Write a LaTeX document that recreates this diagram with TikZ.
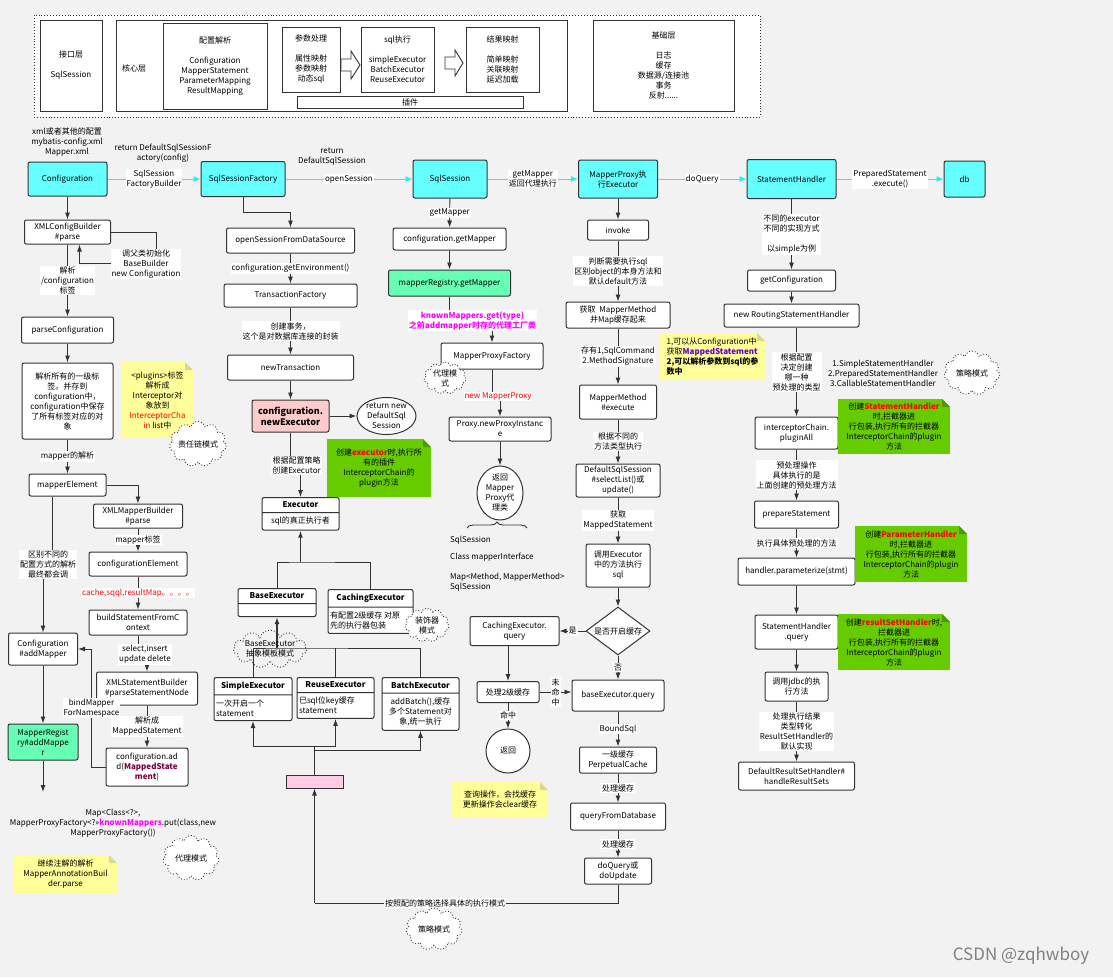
\documentclass[tikz,border=0pt]{standalone}
\usepackage{fontspec}
\setmainfont{Noto Sans CJK SC}
\usetikzlibrary{arrows.meta, shapes.geometric, shapes.symbols, shapes.multipart, decorations.pathreplacing}

\definecolor{bgc}{HTML}{F2F2F2}
\definecolor{linec}{HTML}{333333}
\definecolor{cyanbox}{HTML}{66FFFF}
\definecolor{cyanline}{HTML}{22F0F0}
\definecolor{greenbox}{HTML}{66FFB3}
\definecolor{pinkbox}{HTML}{FFCCCC}
\definecolor{pinkbar}{HTML}{FFCCE6}
\definecolor{notey}{HTML}{FFFF99}
\definecolor{noteyfold}{HTML}{D9D98C}
\definecolor{noteg}{HTML}{66CC00}
\definecolor{notegfold}{HTML}{4D9900}
\definecolor{magentat}{HTML}{FF00FF}
\definecolor{redt}{HTML}{FF0000}
\definecolor{wine}{HTML}{7F0040}
\definecolor{purplet}{HTML}{6600CC}

\tikzset{
    sz/.style 2 args = {minimum width = #1pt, minimum height = #2pt},
    flat/.style = {draw = linec, line width = 0.9pt, fill = white, align = center, inner sep = 1pt},
    box/.style = {flat, line width = 1pt, rounded corners = 2pt},
    mainbox/.style = {box, fill = cyanbox},
    uml/.style = {rectangle split, rectangle split parts = 2, draw = linec, line width = 1pt,
        rounded corners = 2pt, fill = white, align = center, inner xsep = 2pt, inner ysep = 4pt},
    lbl/.style = {fill = white, inner sep = 1pt, align = center},
    txt/.style = {align = center, inner sep = 0pt},
    note/.style 2 args = {fill = #1, align = center, inner sep = 2pt,
        path picture = {
            \fill[bgc] ([xshift = -8pt]path picture bounding box.north east) -- (path picture bounding box.north east)
                -- ([yshift = -8pt]path picture bounding box.north east) -- cycle;
            \fill[#2] ([xshift = -8pt]path picture bounding box.north east) -- ([xshift = -8pt, yshift = -8pt]path picture bounding box.north east)
                -- ([yshift = -8pt]path picture bounding box.north east) -- cycle;
        }},
    cloudn/.style = {cloud, cloud puffs = 11, cloud ignores aspect, draw = linec, dotted, line width = 0.9pt,
        fill = white, align = center, inner sep = 0pt},
    ln/.style = {draw = linec, line width = 0.9pt},
    arr/.style = {ln, -{Latex[length = 7pt, width = 5pt]}},
    carr/.style = {draw = cyanline, line width = 1pt, -{Latex[length = 7pt, width = 6pt]}},
    blockarr/.style = {draw = linec, line width = 0.9pt, fill = white, line join = miter}
}

\begin{document}
\begin{tikzpicture}[x = 1pt, y = -1pt, font = \fontsize{8}{10}\selectfont]
    \useasboundingbox (0, 0) rectangle (1113, 977);
    \fill[bgc] (0, 0) rectangle (1113, 977);

    % layers
    \node[flat, dotted, sz = {726}{102}] (arch) at (397, 66) {};
    \node[flat, sz = {62}{91}] (ifl) at (71, 65.5) {接口层\\[10pt]SqlSession};
    \node[flat, sz = {451}{91}] (core) at (341.5, 65.5) {};
    \node[txt] (corelbl) at (134, 68) {核心层};
    \node[flat, sz = {104}{86}] (cfgp) at (215, 66) {配置解析\\[10pt]Configuration\\MapperStatement\\ParameterMapping\\ResultMapping};
    \node[flat, sz = {58}{65}] (parp) at (311, 59.5) {参数处理\\[10pt]属性映射\\参数映射\\动态sql};
    \draw[blockarr] (341, 59) -- (351, 59) -- (351, 51) -- (360, 65) -- (351, 79) -- (351, 71) -- (341, 71) -- cycle;
    \node[flat, sz = {73}{65}] (sqlx) at (397.5, 59.5) {sql执行\\[10pt]simpleExecutor\\BatchExecutor\\ReuseExecutor};
    \draw[blockarr] (445, 57) -- (455, 57) -- (455, 50) -- (463, 63) -- (455, 76) -- (455, 69) -- (445, 69) -- cycle;
    \node[flat, sz = {73}{65}] (resm) at (502.5, 59.5) {结果映射\\[10pt]简单映射\\关联映射\\延迟加载};
    \node[flat, sz = {226}{12}, inner sep = 0pt] (plug) at (410, 102) {插件};
    \node[flat, sz = {141}{91}] (basel) at (663.5, 65.5) {基础层\\[10pt]日志\\缓存\\数据源/连接池\\事务\\反射......};

    % main row
    \node[mainbox, sz = {79}{34}] (cfg) at (67.5, 179) {Configuration};
    \node[mainbox, sz = {84}{35}] (ssf) at (243, 179) {SqlSessionFactory};
    \node[mainbox, sz = {74}{38}] (ss) at (450, 179) {SqlSession};
    \node[mainbox, sz = {79}{38}] (mp) at (618, 179) {MapperProxy执\\行Executor};
    \node[mainbox, sz = {89}{39}] (sh) at (791.5, 179) {StatementHandler};
    \node[mainbox, sz = {41}{36}] (db) at (964.5, 179) {db};
    \draw[carr] (cfg) -- node[lbl] {SqlSession\\FactoryBuilder} (ssf);
    \draw[carr] (ssf) -- node[lbl] {openSession} (ss);
    \draw[carr] (ss) -- node[lbl] {getMapper\\返回代理执行} (mp);
    \draw[carr] (mp) -- node[lbl] {doQuery} (sh);
    \draw[carr] (sh) -- node[lbl] {PreparedStatement\\.execute()} (db);
    \node[txt] (cfgsrc) at (67, 142) {xml或者其他的配置\\mybatis-config.xml\\Mapper.xml};
    \node[txt] (retssf) at (163, 153) {return DefaultSqlSessionF\\actory(config)};
    \node[txt] (retss) at (332, 157) {return\\DefaultSqlSession};

    % configuration parsing
    \node[box, sz = {86}{24}] (xcb) at (67.5, 232) {XMLConfigBuilder\\\#parse};
    \node[box, sz = {92}{26}] (pc1) at (67.5, 330) {parseConfiguration};
    \node[box, sz = {91}{76}] (all1) at (67.5, 401) {解析所有的一级标\\签。并存到\\configuration中，\\configuration中保存\\了所有标签对应的对\\象};
    \node[box, sz = {77}{22}] (me) at (67.5, 485) {mapperElement};
    \node[box, sz = {89}{24}] (xmb) at (138, 516) {XMLMapperBuilder\\\#parse};
    \node[box, sz = {98}{24}] (ce) at (138, 564) {configurationElement};
    \node[box, sz = {98}{25}] (bsc) at (138, 622.5) {buildStatementFromC\\ontext};
    \node[box, sz = {101}{33}] (xsb) at (147, 688.5) {XMLStatementBuilder\\\#parseStatementNode};
    \node[box, sz = {82}{38}] (cadd) at (147, 767) {configuration.ad\\d(\textbf{\color{wine}MappedState}\\\textbf{\color{wine}ment})};
    \node[box, sz = {69}{32}] (cam) at (43, 649) {Configuration\\\#addMapper};
    \node[box, fill = greenbox, sz = {70}{36}] (mra) at (43, 742) {MapperRegist\\ry\#addMappe\\r};
    \coordinate (xcbloop) at (156, 263);
    \coordinate (mraend) at (43, 792);
    \draw[arr] (cfg) -- (xcb);
    \draw[arr] (xcb.east) -| (xcbloop) -| ([xshift = 12pt]xcb.south);
    \node[lbl] (xcblbl) at (146, 264) {调父类初始化\\BaseBuilder\\new Configuration};
    \draw[arr] (xcb) -- node[lbl] {解析\\/configuration\\标签} (pc1);
    \draw[arr] (pc1) -- (all1);
    \draw[arr] (all1) -- node[lbl] {mapper的解析} (me);
    \draw[arr] (me.east) -| (xmb.north);
    \draw[arr] (xmb) -- node[lbl] {mapper标签} (ce);
    \draw[arr] (ce) -- node[lbl, text = redt] {cache,sqql,resultMap。。。。} (bsc);
    \draw[arr] (bsc.south) -- ++(0, 19) node[lbl, xshift = 7pt] {select,insert\\update delete} -| (xsb.north);
    \draw[arr] (xsb) -- node[lbl] {解析成\\MappedStatement} (cadd);
    \draw[arr] (cadd.west) -- ++(-14, 0) |- node[lbl, pos = 0.25] {bindMapper\\ForNamespace} (cam.east);
    \draw[arr] ([xshift = -15.5pt]me.south) |- ([yshift = 68pt]cam.north) node[lbl, xshift = 5pt] {区别不同的\\配置方式的解析\\最终都会调} -- (cam.north);
    \draw[arr] (cam) -- (mra);
    \draw[arr] (mra) -- (mraend);
    \node[txt] (kmput) at (113, 823) {Map<Class<?>,\\MapperProxyFactory<?>>\textbf{\color{magentat}knownMappers}.put(class,new\\MapperProxyFactory())};
    \node[cloudn, sz = {56}{45}] (proxy2) at (191, 858) {代理模式};
    \node[note = {notey}{noteyfold}, sz = {103}{38}] (annot) at (65.5, 874) {继续注解的解析\\MapperAnnotationBuil\\der.parse};
    \node[note = {notey}{noteyfold}, sz = {71}{76}] (plugnote) at (157.5, 400) {<plugins>标签\\解析成\\Interceptor对\\象放到\\{\color{redt}InterceptorCha}\\{\color{redt}in} list中};
    \node[cloudn, sz = {57}{45}] (chain) at (198, 444) {责任链模式};

    % session factory
    \node[box, sz = {128}{25}] (osf) at (290.5, 240.5) {openSessionFromDataSource};
    \node[box, sz = {133}{23}] (tf) at (290.5, 295.5) {TransactionFactory};
    \node[box, sz = {126}{25}] (nt) at (290.5, 367.5) {newTransaction};
    \node[box, fill = pinkbox, sz = {77}{32}, font = \fontsize{9}{11}\selectfont\bfseries] (nex) at (290.5, 416) {configuration.\\newExecutor};
    \node[ellipse, draw = linec, line width = 1pt, fill = white, align = center, inner sep = 0pt, sz = {59}{37}] (rds) at (386.5, 416) {return new\\DefaultSql\\Session};
    \draw[arr] (ssf.south) -- ++(0, 15) -| (osf.north);
    \draw[arr] (osf) -- node[lbl] {configuration.getEnvironment()} (tf);
    \draw[arr] (tf) -- node[lbl] {创建事务，\\这个是对数据库连接的封装} (nt);
    \draw[arr] (nt) -- (nex);
    \draw[arr] (nex) -- (rds);
    \node[note = {noteg}{notegfold}, sz = {104}{58}] (exnote) at (379, 468) {创建\textbf{\color{redt}executor}时,执行所\\有的插件\\InterceptorChain的\\plugin方法};

    % executors
    \node[uml, minimum width = 77pt, anchor = north] (exe) at (300.5, 497) {\textbf{Executor}\nodepart{second}sql的真正执行者};
    \node[uml, minimum width = 78pt, anchor = north] (base) at (277, 588) {\textbf{BaseExecutor}\nodepart{second}\rule{0pt}{4pt}};
    \node[uml, minimum width = 85pt, anchor = north, rectangle split part align = {center, left}] (cach) at (370.5, 589) {\textbf{CachingExecutor}\nodepart[align = left]{second}有配置2级缓存 对原\\先的执行器包装};
    \node[uml, minimum width = 78pt, anchor = north, rectangle split part align = {center, left}] (simp) at (253, 677) {\textbf{SimpleExecutor}\nodepart[align = left]{second}一次开启一个\\statement};
    \node[uml, minimum width = 77pt, anchor = north, rectangle split part align = {center, left}] (reuse) at (335.5, 677) {\textbf{ReuseExecutor}\nodepart[align = left]{second}已sql位key缓存\\statement};
    \node[uml, minimum width = 77pt, anchor = north] (batch) at (420.5, 677) {\textbf{BatchExecutor}\nodepart{second}addBatch(),缓存\\多个Statement对\\象,统一执行};
    \node[draw = linec, line width = 1pt, fill = pinkbar, sz = {57}{13}, inner sep = 0pt] (pinkb) at (314.5, 781.5) {};
    \coordinate (exjoin) at (300.5, 562);
    \coordinate (subjoin) at (277, 648);
    \coordinate (pjoin) at (314.5, 746);
    \coordinate (lowc) at (314.5, 903);
    \draw[arr] (nex.south) -- ++(0, 33) node[lbl, xshift = 6pt] {根据配置策略\\创建Executor} -| (exe.north);
    \draw[ln] (base.north) |- (exjoin) -| (cach.north);
    \draw[arr, line width = 1.4pt] (exjoin) -- (exe.south);
    \draw[ln] (simp.north) |- (subjoin) -| (batch.north);
    \draw[ln] (reuse.north) -- (reuse.north |- subjoin);
    \draw[arr, line width = 1.4pt] (subjoin) -- (base.south);
    \draw[ln] (pinkb.north) -- (pjoin);
    \draw[arr] (pjoin) -| (simp.south);
    \draw[arr] (pjoin) -| (reuse.south);
    \draw[arr] (pjoin) -- ++(0, 4) -| (batch.south);
    \node[cloudn, fill = none, sz = {64}{36}] (tmpl) at (270, 649) {BaseExecutor\\抽象模板模式};
    \node[cloudn, sz = {44}{34}] (deco) at (427, 625) {装饰器\\模式};

    % mapper proxy
    \node[box, sz = {113}{22}] (cgm) at (449.5, 239) {configuration.getMapper};
    \node[box, fill = greenbox, sz = {122}{26}] (mrg) at (449.5, 283) {mapperRegistry.getMapper};
    \node[box, sz = {102}{26}] (mpf) at (492, 356) {MapperProxyFactory};
    \node[box, sz = {102}{24}] (pni) at (500, 429) {Proxy.newProxyInstanc\\e};
    \node[ellipse, draw = linec, line width = 1pt, fill = white, align = center, inner sep = 0pt, sz = {46}{54}] (retp) at (500, 493) {返回\\Mapper\\Proxy代\\理类};
    \draw[arr] (ss) -- node[lbl] {getMapper} (cgm);
    \draw[arr] (cgm) -- (mrg);
    \draw[arr] (mrg.south) -- ++(0, 24) node[lbl, xshift = 23pt, text = magentat, font = \fontsize{8}{10}\selectfont\bfseries] {knownMappers.get(type)\\之前addmapper时存的代理工厂类} -| (mpf.north);
    \draw[arr] (mpf.south) -- ++(0, 27) node[lbl, xshift = 6pt, text = redt] {new MapperProxy} -| (pni.north);
    \draw[arr] (pni) -- (retp);
    \node[cloudn, sz = {42}{32}] (proxy1) at (445, 378) {代理模\\式};
    \draw[ln, decorate, decoration = {brace, amplitude = 6pt}] (467, 528) -- (527, 528);
    \node[txt, anchor = west] (fld1) at (450, 540) {SqlSession};
    \node[txt, anchor = west] (fld2) at (450, 557) {Class mapperInterface};
    \node[txt, anchor = west, align = left] (fld3) at (450, 582) {Map<Method, MapperMethod>\\SqlSession};

    % mapper method
    \node[box, sz = {61}{20}] (inv) at (618, 230) {invoke};
    \node[box, sz = {104}{26}] (mm1) at (618, 315) {获取\ \ MapperMethod\\并Map缓存起来};
    \node[box, sz = {77}{34}] (mme) at (618, 402) {MapperMethod\\\#execute};
    \node[box, sz = {84}{33}] (dss) at (618, 480.5) {DefaultSqlSession\\\#selectList()或\\update()};
    \node[box, sz = {64}{43}] (cex) at (618, 565.5) {调用Executor\\中的方法执行\\sql};
    \node[diamond, draw = linec, line width = 1pt, fill = white, inner sep = 0pt, sz = {64}{48}] (dia) at (618, 631) {\makebox[0pt]{是否开启缓存}};
    \node[box, sz = {89}{29}] (ceq) at (514.5, 631) {CachingExecutor.\\query};
    \node[box, sz = {62}{21}] (l2c) at (508, 692) {处理2级缓存};
    \node[circle, draw = linec, line width = 1pt, fill = white, inner sep = 0pt, minimum size = 44pt] (ret2) at (508, 751) {返回};
    \node[box, sz = {92}{31}] (beq) at (618, 695.5) {baseExecutor.query};
    \node[box, sz = {77}{26}] (pcache) at (618, 760) {一级缓存\\PerpetualCache};
    \node[box, sz = {95}{27}] (qfd) at (618, 816.5) {queryFromDatabase};
    \node[box, sz = {67}{26}] (doq) at (618, 871) {doQuery或\\doUpdate};
    \draw[arr] (mp) -- (inv);
    \draw[arr] (inv) -- node[lbl] {判断需要执行sql\\区别object的本身方法和\\默认default方法} (mm1);
    \draw[arr] (mm1) -- node[lbl] {存有1,SqlCommand\\2.MethodSignature} (mme);
    \draw[arr] (mme) -- node[lbl] {根据不同的\\方法类型执行} (dss);
    \draw[arr] (dss) -- node[lbl] {获取\\MappedStatement} (cex);
    \draw[arr] (cex) -- (dia);
    \draw[arr] (dia) -- node[lbl] {是} (ceq);
    \draw[arr] (dia) -- node[lbl] {否} (beq);
    \draw[arr] (ceq.south -| l2c.north) -- (l2c.north);
    \draw[arr] (l2c.east) -- node[lbl] {未\\命\\中} (l2c.east -| beq.west);
    \draw[arr] (l2c) -- node[lbl] {命中} (ret2);
    \draw[arr] (beq) -- node[lbl] {BoundSql} (pcache);
    \draw[arr] (pcache) -- node[lbl] {处理缓存} (qfd);
    \draw[arr] (qfd) -- node[lbl] {处理缓存} (doq);
    \draw[ln] (doq.south) |- node[lbl, pos = 0.785] {按照配的策略选择具体的执行模式} (lowc);
    \draw[arr] (lowc) -- (pinkb.south);
    \node[cloudn, sz = {56}{42}] (strat2) at (434, 929) {策略模式};
    \node[note = {notey}{noteyfold}, sz = {105}{47}, align = left] (msnote) at (712.5, 356.5) {1,可以从Configuration中\\获取\textbf{\color{purplet}MappedStatement}\\\textbf{2,可以解析参数到sql的参}\\\textbf{数中}};
    \node[note = {notey}{noteyfold}, sz = {96}{35}] (cachenote) at (500, 799.5) {查询操作，会找缓存\\更新操作会clear缓存};

    % statement handler
    \node[box, sz = {88}{21}] (gc) at (791.5, 280.5) {getConfiguration};
    \node[box, sz = {135}{23}] (rsh) at (791.5, 315.5) {new RoutingStatementHandler};
    \node[box, sz = {83}{32}] (icp) at (796.5, 433) {interceptorChain.\\pluginAll};
    \node[box, sz = {84}{27}] (ps) at (796.5, 514.5) {prepareStatement};
    \node[box, sz = {117}{27}] (hp) at (796.5, 571.5) {handler.parameterize(stmt)};
    \node[box, sz = {83}{34}] (shq) at (796.5, 632) {StatementHandler\\.query};
    \node[box, sz = {63}{29}] (jdbc) at (796.5, 686.5) {调用jdbc的执\\行方法};
    \node[box, sz = {116}{28}] (drs) at (796.5, 776) {DefaultResultSetHandler\#\\handleResultSets};
    \draw[arr] (sh) -- node[lbl] {不同的executor\\不同的实现方式\\[10pt]以simple为例} (gc);
    \draw[arr] (gc) -- (rsh);
    \draw[arr] (rsh.south -| icp.north) -- node[lbl] {根据配置\\决定创建\\哪一种\\预处理的类型} (icp.north);
    \draw[arr] (icp) -- node[lbl] {预处理操作\\具体执行的是\\上面创建的预处理方法} (ps);
    \draw[arr] (ps) -- node[lbl] {执行具体预处理的方法} (hp);
    \draw[arr] (hp) -- (shq);
    \draw[arr] (shq) -- (jdbc);
    \draw[arr] (jdbc) -- node[lbl] {处理执行结果\\类型转化\\ResultSetHandler的\\默认实现} (drs);
    \node[txt] (shkinds) at (883, 373) {1.SimpleStatementHandler\\2.PreparedStatementHandler\\3.CallableStatementHandler};
    \node[cloudn, sz = {56}{44}] (strat1) at (972, 373) {策略模式};
    \node[note = {noteg}{notegfold}, sz = {112}{55}] (shnote) at (894, 426.5) {创建\textbf{\color{redt}StatementHandler}\\时,拦截器进\\行包装,执行所有的拦截器\\InterceptorChain的plugin\\方法};
    \node[note = {noteg}{notegfold}, sz = {112}{56}] (phnote) at (911, 554) {创建\textbf{\color{redt}ParameterHandler}\\时,拦截器进\\行包装,执行所有的拦截器\\InterceptorChain的plugin\\方法};
    \node[note = {noteg}{notegfold}, sz = {112}{56}] (rhnote) at (894, 642) {创建\textbf{\color{redt}resultSetHandler}时,\\拦截器进\\行包装,执行所有的拦截器\\InterceptorChain的plugin\\方法};

    \node[txt, text = gray, font = \fontsize{17}{20}\selectfont] (mark) at (1021, 956) {CSDN @zqhwboy};
\end{tikzpicture}
\end{document}
